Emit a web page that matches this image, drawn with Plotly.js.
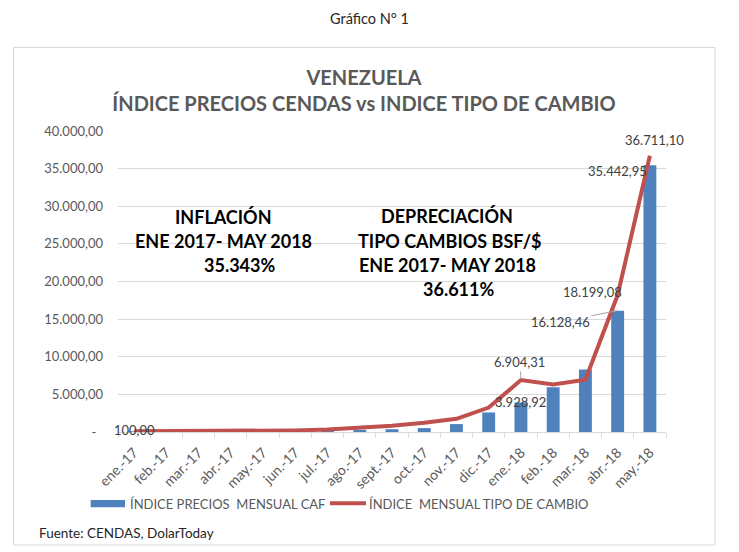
<!DOCTYPE html>
<html>
<head>
<meta charset="utf-8">
<script src="https://cdn.plot.ly/plotly-3.0.1.min.js"></script>
<style>
  html, body { margin: 0; padding: 0; background: #ffffff; }
  #chart { width: 739px; height: 552px; }
</style>
</head>
<body>
<div id="chart"></div>
<script>
// ---- Data ----
const categories = ['ene.-17','feb.-17','mar.-17','abr.-17','may.-17','jun.-17','jul.-17','ago.-17','sept.-17','oct.-17','nov.-17','dic.-17','ene.-18','feb.-18','mar.-18','abr.-18','may.-18'];
const preciosCAF = [100, 115, 130, 150, 170, 195, 230, 280, 370, 520, 1050, 2600, 3928.92, 5950, 8300, 16128.46, 35442.95];
const tipoCambio = [100, 105, 115, 135, 170, 210, 320, 540, 830, 1220, 1750, 3250, 6904.31, 6300, 6950, 18199.08, 36711.10];
const yTickVals = [0, 5000, 10000, 15000, 20000, 25000, 30000, 35000, 40000];
const seriesNames = ['ÍNDICE PRECIOS\u00a0 MENSUAL CAF', 'ÍNDICE\u00a0 MENSUAL TIPO DE CAMBIO'];

// ---- Helpers ----
const FONT = "Lato, 'Open Sans', 'DejaVu Sans', sans-serif";
const W = 739, H = 552;
const M = { l: 118, r: 73, t: 131, b: 120 };
const PW = W - M.l - M.r, PH = H - M.t - M.b;
const px2x = px => (px - M.l) / PW;
const py2y = py => (H - M.b - py) / PH;

function fmtES(v) {
  const s = v.toFixed(2).split('.');
  const i = s[0].replace(/\B(?=(\d{3})+(?!\d))/g, '.');
  return i + ',' + s[1];
}

const labelFont = { family: FONT, size: 13, color: '#404040' };

function dataLabel(series, idx, opts) {
  return Object.assign({
    x: categories[idx], y: series[idx], xref: 'x', yref: 'y',
    text: fmtES(series[idx]), font: labelFont, showarrow: false,
    xanchor: 'center', yanchor: 'middle'
  }, opts);
}

function paperText(text, px, py, size, opts) {
  return Object.assign({
    text: text, xref: 'paper', yref: 'paper', x: px2x(px), y: py2y(py),
    showarrow: false, xanchor: 'center', yanchor: 'middle',
    font: { family: FONT, size: size, color: '#000000' }
  }, opts || {});
}

const traces = [
  {
    type: 'bar', x: categories, y: preciosCAF, name: seriesNames[0],
    marker: { color: '#4f81bd' }, showlegend: false, hoverinfo: 'skip'
  },
  {
    type: 'scatter', mode: 'lines', x: categories, y: tipoCambio, name: seriesNames[1],
    line: { color: '#c0504d', width: 4 }, showlegend: false, hoverinfo: 'skip'
  }
];

const last = categories.length - 1;
const annotations = [
  // data labels
  dataLabel(tipoCambio, 0, { yshift: 1 }),
  dataLabel(preciosCAF, 12, {}),
  dataLabel(tipoCambio, 12, { showarrow: true, arrowhead: 0, arrowwidth: 1, arrowcolor: '#a6a6a6', ax: -1, ay: -18, standoff: 1 }),
  dataLabel(preciosCAF, 15, { showarrow: true, arrowhead: 0, arrowwidth: 1, arrowcolor: '#a6a6a6', ax: -57, ay: 11, standoff: 1 }),
  dataLabel(tipoCambio, 15, { xshift: -25, yshift: 3 }),
  dataLabel(preciosCAF, last, { xshift: -32, yshift: -6 }),
  dataLabel(tipoCambio, last, { xshift: 5, yshift: 16 }),
  // header / text boxes
  paperText('Gráfico N° 1', 369, 18, 14.5, { font: { family: FONT, size: 14.5, color: '#262626' } }),
  paperText('<b>INFLACIÓN</b>', 223.5, 216.5, 18),
  paperText('<b>ENE 2017- MAY 2018</b>', 223.5, 240.5, 18),
  paperText('<b>35.343%</b>', 239.7, 265, 18),
  paperText('<b>DEPRECIACIÓN</b>', 446.7, 216, 18),
  paperText('<b>TIPO CAMBIOS BSF/$</b>', 449, 240.5, 18),
  paperText('<b>ENE 2017- MAY 2018</b>', 447, 264.5, 18),
  paperText('<b>36.611%</b>', 458, 288.5, 18),
  // legend texts
  paperText(seriesNames[0], 128, 503.5, 13, { xanchor: 'left', font: { family: FONT, size: 13, color: '#595959' } }),
  paperText(seriesNames[1], 367, 503.5, 13, { xanchor: 'left', font: { family: FONT, size: 13, color: '#595959' } }),
  // source
  paperText('Fuente: CENDAS, DolarToday', 36.7, 533, 13.5, { xanchor: 'left', font: { family: FONT, size: 13.5, color: '#262626' } })
];

const shapes = [
  { type: 'rect', xref: 'paper', yref: 'paper', x0: px2x(13.5), x1: px2x(715), y0: py2y(545), y1: py2y(47.5),
    line: { color: '#d9d9d9', width: 1 }, fillcolor: 'rgba(0,0,0,0)', layer: 'below' },
  { type: 'rect', xref: 'paper', yref: 'paper', x0: px2x(90.7), x1: px2x(125), y0: py2y(507.3), y1: py2y(500),
    line: { width: 0 }, fillcolor: '#4f81bd' },
  { type: 'line', xref: 'paper', yref: 'paper', x0: px2x(330), x1: px2x(366), y0: py2y(503.3), y1: py2y(503.3),
    line: { color: '#c0504d', width: 4 } }
];

const layout = {
  width: W, height: H,
  margin: M,
  paper_bgcolor: '#ffffff', plot_bgcolor: '#ffffff',
  font: { family: FONT, color: '#595959' },
  title: {
    text: '<b>VENEZUELA</b><br><b>ÍNDICE PRECIOS CENDAS vs INDICE TIPO DE CAMBIO</b>',
    font: { family: FONT, size: 20, color: '#595959' },
    x: 364 / W, xanchor: 'center', xref: 'container',
    y: 1 - 85 / H, yanchor: 'top', yref: 'container'
  },
  bargap: 0.6,
  showlegend: false,
  xaxis: {
    type: 'category', range: [-0.5, last + 0.5],
    tickangle: -45, tickson: 'boundaries', ticks: 'outside', ticklen: 5, tickcolor: '#d9d9d9',
    ticklabelstandoff: 6,
    showline: true, linecolor: '#d9d9d9', linewidth: 1, showgrid: false, zeroline: false,
    tickfont: { family: FONT, size: 14, color: '#595959' }, fixedrange: true
  },
  yaxis: {
    range: [0, 40000], tickmode: 'array', tickvals: yTickVals,
    ticktext: yTickVals.map(v => v === 0 ? '-\u00a0\u00a0' : fmtES(v)),
    showgrid: true, gridcolor: '#d9d9d9', gridwidth: 1, zeroline: false, showline: false,
    ticks: '', ticklabelstandoff: 14,
    tickfont: { family: FONT, size: 13, color: '#595959' }, fixedrange: true
  },
  annotations: annotations,
  shapes: shapes
};

Plotly.newPlot('chart', traces, layout, { staticPlot: true, displayModeBar: false });
</script>
</body>
</html>
